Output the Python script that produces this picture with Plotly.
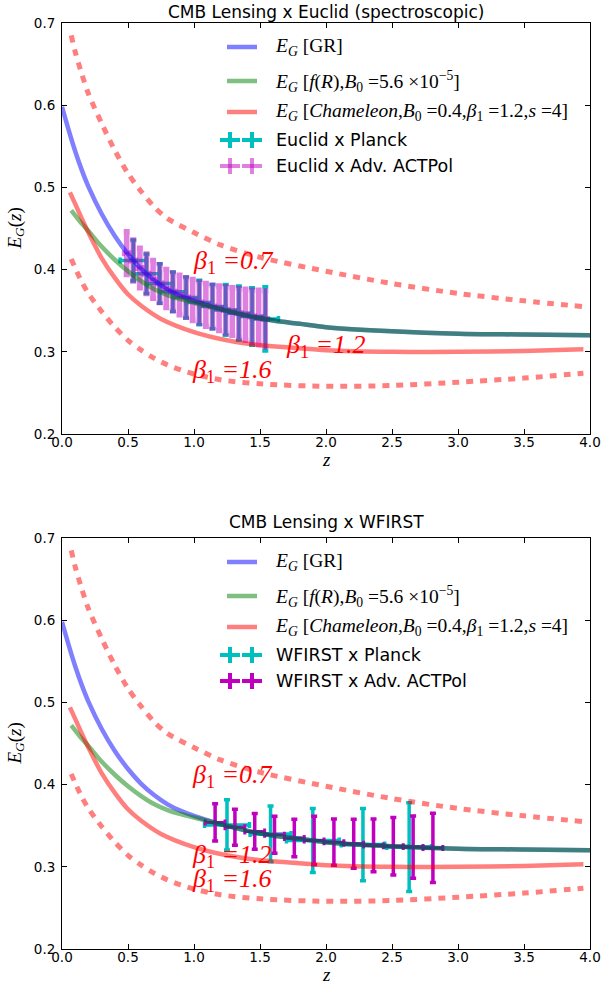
import plotly.graph_objects as go

W, H = 601, 989

# ---------------- data ----------------
z_gr = [0.0, 0.05, 0.1, 0.15, 0.2, 0.3, 0.4, 0.5, 0.6, 0.7, 0.8, 0.9, 1.0, 1.2, 1.4, 1.6, 1.8, 2.0, 2.5, 3.0, 3.5, 4.0]
eg_gr = [0.598, 0.570, 0.544, 0.521, 0.501, 0.468, 0.441, 0.419, 0.401, 0.387, 0.376, 0.368, 0.362, 0.352, 0.344, 0.338, 0.334, 0.330, 0.325, 0.322, 0.321, 0.320]

z_fr = [0.07, 0.1, 0.15, 0.2, 0.3, 0.4, 0.5, 0.6, 0.7, 0.8, 0.9, 1.0, 1.2, 1.4, 1.6, 1.8, 2.0, 2.5, 3.0, 3.5, 4.0]
eg_fr = [0.472, 0.466, 0.456, 0.447, 0.428, 0.412, 0.398, 0.386, 0.376, 0.369, 0.364, 0.360, 0.352, 0.344, 0.338, 0.334, 0.330, 0.325, 0.322, 0.321, 0.320]

z_ch = [0.06, 0.1, 0.15, 0.2, 0.25, 0.3, 0.4, 0.5, 0.6, 0.75, 1.0, 1.25, 1.5, 1.75, 2.0, 2.5, 3.0, 3.5, 3.95]
eg_ch = [0.494, 0.480, 0.462, 0.445, 0.429, 0.414, 0.390, 0.370, 0.356, 0.340, 0.324, 0.314, 0.308, 0.305, 0.302, 0.300, 0.300, 0.301, 0.303]

z_b07 = [0.07, 0.1, 0.15, 0.2, 0.3, 0.4, 0.5, 0.6, 0.7, 0.8, 1.0, 1.2, 1.5, 2.0, 2.5, 3.0, 3.5, 3.95]
eg_b07 = [0.685, 0.665, 0.638, 0.614, 0.578, 0.545, 0.517, 0.495, 0.476, 0.462, 0.445, 0.430, 0.415, 0.398, 0.383, 0.371, 0.362, 0.355]

z_b16 = [0.07, 0.1, 0.15, 0.2, 0.3, 0.4, 0.5, 0.6, 0.7, 0.8, 0.9, 1.0, 1.2, 1.5, 2.0, 2.5, 3.0, 3.5, 3.95]
eg_b16 = [0.413, 0.402, 0.385, 0.371, 0.349, 0.330, 0.314, 0.302, 0.292, 0.284, 0.278, 0.273, 0.266, 0.261, 0.258, 0.259, 0.263, 0.268, 0.274]

# Euclid x Planck (top, cyan)
z_eu_pl = [0.54, 0.64, 0.74, 0.84, 0.94, 1.04, 1.14, 1.24, 1.34, 1.44, 1.54]
eg_eu_pl = [0.411, 0.395, 0.383, 0.373, 0.366, 0.360, 0.355, 0.351, 0.347, 0.343, 0.340]
err_eu_pl = [0.025, 0.024, 0.024, 0.024, 0.025, 0.027, 0.027, 0.031, 0.033, 0.035, 0.039]
zerr_eu_pl = [0.1] * 11

# Euclid x Adv. ACTPol (top, magenta)
z_eu_act = [0.49, 0.54, 0.59, 0.64, 0.69, 0.74, 0.79, 0.84, 0.89, 0.94, 0.99,
            1.04, 1.09, 1.14, 1.19, 1.24, 1.29, 1.34, 1.39, 1.44, 1.49, 1.54]
eg_eu_act = [0.420, 0.411, 0.402, 0.395, 0.388, 0.383, 0.377, 0.373, 0.369, 0.366, 0.363,
             0.360, 0.357, 0.355, 0.353, 0.351, 0.349, 0.347, 0.345, 0.343, 0.342, 0.340]
err_eu_act = [0.026, 0.025, 0.024, 0.024, 0.023, 0.023, 0.023, 0.023, 0.024, 0.024, 0.025,
              0.025, 0.026, 0.026, 0.027, 0.028, 0.029, 0.030, 0.031, 0.032, 0.033, 0.034]
zerr_eu_act = [0.025] * 22

# WFIRST x Planck (bottom, cyan)
z_wf_pl = [1.25, 1.58, 1.90, 2.28, 2.63]
eg_wf_pl = [0.351, 0.340, 0.332, 0.327, 0.324]
err_wf_pl = [0.0305, 0.034, 0.039, 0.044, 0.054]
zerr_wf_pl = [0.17, 0.155, 0.2, 0.165, 0.17]

# WFIRST x Adv. ACTPol (bottom, magenta)
z_wf_act = [1.16, 1.31, 1.46, 1.61, 1.76, 1.91, 2.06, 2.21, 2.36, 2.51, 2.66, 2.81]
eg_wf_act = [0.354, 0.348, 0.343, 0.339, 0.335, 0.332, 0.330, 0.328, 0.326, 0.325, 0.324, 0.323]
err_wf_act = [0.0227, 0.0219, 0.0217, 0.0225, 0.0227, 0.0294, 0.028, 0.0298, 0.032, 0.0349, 0.0379, 0.0422]
zerr_wf_act = [0.075] * 12

x_ticks = [0.0, 0.5, 1.0, 1.5, 2.0, 2.5, 3.0, 3.5, 4.0]
y_ticks = [0.2, 0.3, 0.4, 0.5, 0.6, 0.7]

titles = ["CMB Lensing x Euclid (spectroscopic)", "CMB Lensing x WFIRST"]
leg_pl = ["Euclid x Planck", "WFIRST x Planck"]
leg_act = ["Euclid x Adv. ACTPol", "WFIRST x Adv. ACTPol"]

# ---------------- styles ----------------
BLUE = "rgba(0,0,255,0.5)"
GREEN = "rgba(0,128,0,0.5)"
RED = "rgba(255,0,0,0.5)"
CYAN = "#00BFBF"
MAG = "#BF00BF"
MAG_A = "rgba(191,0,191,0.5)"
SERIF = "Liberation Serif"
SANS = "DejaVu Sans"

fig = go.Figure()


def px_x(p):
    return p / W


def px_y(p):
    return 1 - p / H


panels = [
    dict(xa="x", ya="y", top=23, bot=434,
         pl=(z_eu_pl, eg_eu_pl, err_eu_pl, zerr_eu_pl),
         act=(z_eu_act, eg_eu_act, err_eu_act, zerr_eu_act), act_col=MAG_A, act_th=5.5),
    dict(xa="x2", ya="y2", top=538, bot=949,
         pl=(z_wf_pl, eg_wf_pl, err_wf_pl, zerr_wf_pl),
         act=(z_wf_act, eg_wf_act, err_wf_act, zerr_wf_act), act_col=MAG, act_th=3.5),
]

for i, p in enumerate(panels):
    zx, zy, ey, ex = p["pl"]
    fig.add_trace(go.Scatter(
        x=zx, y=zy, mode="markers", xaxis=p["xa"], yaxis=p["ya"], showlegend=False,
        marker=dict(size=1, color="rgba(0,0,0,0)"),
        error_y=dict(type="data", array=ey, color=CYAN, thickness=3.5, width=3),
        error_x=dict(type="data", array=ex, color=CYAN, thickness=3.5, width=3)))
    zx, zy, ey, ex = p["act"]
    fig.add_trace(go.Scatter(
        x=zx, y=zy, mode="markers", xaxis=p["xa"], yaxis=p["ya"], showlegend=False,
        marker=dict(size=1, color="rgba(0,0,0,0)"),
        error_y=dict(type="data", array=ey, color=p["act_col"], thickness=p["act_th"], width=3),
        error_x=dict(type="data", array=ex, color=p["act_col"], thickness=3, width=3)))
    for zz, vv, col, dash in [(z_gr, eg_gr, BLUE, "solid"), (z_fr, eg_fr, GREEN, "solid"),
                              (z_ch, eg_ch, RED, "solid"), (z_b07, eg_b07, RED, "7px,7px"),
                              (z_b16, eg_b16, RED, "7px,7px")]:
        fig.add_trace(go.Scatter(
            x=zz, y=vv, mode="lines", xaxis=p["xa"], yaxis=p["ya"], showlegend=False,
            line=dict(color=col, width=4.5 if dash == "solid" else 5, dash=dash, shape="spline", smoothing=0.8),
            hoverinfo="skip"))

axis_common = dict(showline=True, linecolor="black", linewidth=1, mirror="allticks",
                   ticks="inside", ticklen=5, tickcolor="black", showgrid=False, zeroline=False,
                   automargin=False, tickfont=dict(family=SANS, size=13.5, color="black"))

fig.update_layout(
    template="none",
    width=W, height=H, margin=dict(l=0, r=0, t=0, b=0, pad=0, autoexpand=False),
    paper_bgcolor="white", plot_bgcolor="white", showlegend=False,
    font=dict(family=SANS, color="black"),
    xaxis=dict(domain=[px_x(62), px_x(590)], anchor="y", range=[0, 4], tickvals=x_ticks,
               tickformat=".1f", ticklabelstandoff=-4, **axis_common),
    yaxis=dict(domain=[px_y(434), px_y(23)], anchor="x", range=[0.2, 0.7], tickvals=y_ticks,
               tickformat=".1f", ticklabelstandoff=3, **axis_common),
    xaxis2=dict(domain=[px_x(62), px_x(590)], anchor="y2", range=[0, 4], tickvals=x_ticks,
                tickformat=".1f", ticklabelstandoff=-4, **axis_common),
    yaxis2=dict(domain=[px_y(949), px_y(538)], anchor="x2", range=[0.2, 0.7], tickvals=y_ticks,
                tickformat=".1f", ticklabelstandoff=3, **axis_common),
)

ann = []
shapes = []
leg_text = [
    "<i>E</i><sub><i>G</i></sub> [GR]",
    "<i>E</i><sub><i>G</i></sub> [<i>f</i>(<i>R</i>),<i>B</i><sub>0</sub> =5.6 ×10<sup>−5</sup>]",
    "<i>E</i><sub><i>G</i></sub> [<i>Chameleon</i>,<i>B</i><sub>0</sub> =0.4,<i>β</i><sub>1</sub> =1.2,<i>s</i> =4]",
]
leg_cols = [BLUE, GREEN, RED]

beta_labels = [
    [("<i>β</i><sub>1</sub> <i>=0.7</i>", 1.30, 0.409), ("<i>β</i><sub>1</sub> <i>=1.2</i>", 2.0, 0.307),
     ("<i>β</i><sub>1</sub> <i>=1.6</i>", 1.29, 0.277)],
    [("<i>β</i><sub>1</sub> <i>=0.7</i>", 1.29, 0.410), ("<i>β</i><sub>1</sub> <i>=1.2</i>", 1.29, 0.313),
     ("<i>β</i><sub>1</sub> <i>=1.6</i>", 1.29, 0.284)],
]

for i, p in enumerate(panels):
    off = 0 if i == 0 else 515
    # title
    ann.append(dict(x=px_x(326), y=px_y(12 + (510 if i else 0)), xref="paper", yref="paper",
                    text=titles[i], showarrow=False, xanchor="center", yanchor="middle",
                    font=dict(family=SANS, size=17, color="black")))
    # axis labels
    ann.append(dict(x=px_x(326), y=px_y(459 + off), xref="paper", yref="paper",
                    text="<i>z</i>", showarrow=False, xanchor="center", yanchor="middle",
                    font=dict(family=SERIF, size=19, color="black")))
    ann.append(dict(x=px_x(15), y=px_y((p["top"] + p["bot"]) / 2), xref="paper", yref="paper",
                    text="<i>E</i><sub><i>G</i></sub>(<i>z</i>)", showarrow=False, textangle=-90,
                    xanchor="center", yanchor="middle",
                    font=dict(family=SERIF, size=19, color="black")))
    # legend: lines
    rows = [47 + off, 81 + off, 112 + off, 140 + off, 166 + off]
    for r, txt, col in zip(rows[:3], leg_text, leg_cols):
        shapes.append(dict(type="line", xref="paper", yref="paper", x0=px_x(227), x1=px_x(257),
                           y0=px_y(r), y1=px_y(r), line=dict(color=col, width=4.5)))
        ann.append(dict(x=px_x(273), y=px_y(r), xref="paper", yref="paper", text=txt,
                        showarrow=False, xanchor="left", yanchor="middle",
                        font=dict(family=SERIF, size=19.5, color="black")))
    # legend: error-bar crosses
    act_col = MAG_A if i == 0 else MAG
    for r, txt, col in [(rows[3], leg_pl[i], CYAN), (rows[4], leg_act[i], act_col)]:
        for cx in (230, 252):
            shapes.append(dict(type="line", xref="paper", yref="paper", x0=px_x(cx - 10), x1=px_x(cx + 10),
                               y0=px_y(r), y1=px_y(r), line=dict(color=col, width=4)))
            shapes.append(dict(type="line", xref="paper", yref="paper", x0=px_x(cx), x1=px_x(cx),
                               y0=px_y(r - 8), y1=px_y(r + 8), line=dict(color=col, width=4)))
        ann.append(dict(x=px_x(274), y=px_y(r), xref="paper", yref="paper", text=txt,
                        showarrow=False, xanchor="left", yanchor="middle",
                        font=dict(family=SANS, size=17.5, color="black")))
    # beta labels
    for txt, bx, by in beta_labels[i]:
        ann.append(dict(x=bx, y=by, xref=p["xa"], yref=p["ya"], text=txt, showarrow=False,
                        xanchor="center", yanchor="middle",
                        font=dict(family=SERIF, size=26, color="#FF0000")))

fig.update_layout(annotations=ann, shapes=shapes)
fig.write_html(
    "out.html",
    config={"displayModeBar": False},
    post_script="document.body.style.margin='0px';document.body.style.padding='0px';"
                "document.documentElement.style.overflow='hidden';",
)
